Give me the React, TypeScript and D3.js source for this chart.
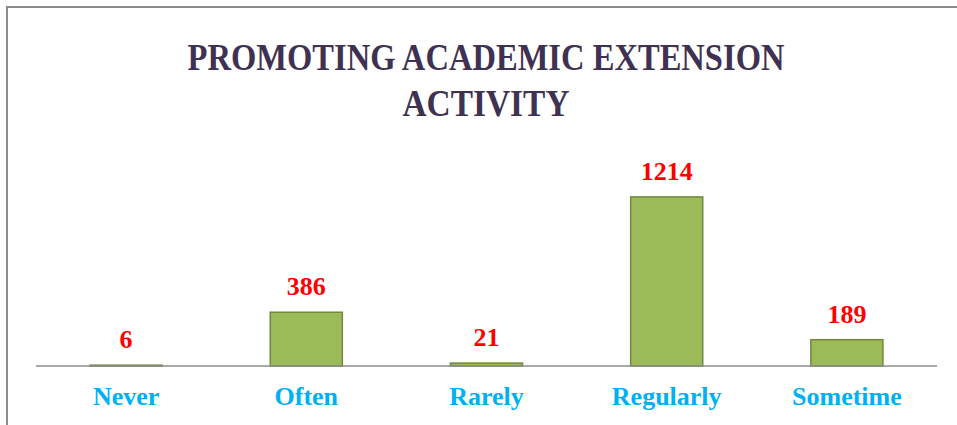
import React, { useEffect, useRef } from "react";
import * as d3 from "d3";

const categories = ["Never", "Often", "Rarely", "Regularly", "Sometime"];
const counts = [6, 386, 21, 1214, 189];
const titleLines = ["PROMOTING ACADEMIC EXTENSION", "ACTIVITY"];

const W = 957;
const H = 425;

const App = () => {
  const svgRef = useRef<SVGSVGElement>(null);

  useEffect(() => {
    const svg = d3.select(svgRef.current);
    svg.selectAll("*").remove();

    const left = 36;
    const right = 937;
    const baseY = 366;

    const x = d3.scaleBand().domain(categories).range([left, right]).paddingInner(0.6).paddingOuter(0.3);
    const y = d3.scaleLinear().domain([0, 1400]).range([baseY, 171]);

    // frame
    svg
      .append("path")
      .attr("d", `M7,${H} L7,7 L${W},7`)
      .attr("fill", "none")
      .attr("stroke", "#8c8c8c")
      .attr("stroke-width", 2);

    // title
    const titleW = [597, 167];
    titleLines.forEach((t, i) => {
      svg
        .append("text")
        .attr("x", 486)
        .attr("y", 70 + i * 46)
        .attr("text-anchor", "middle")
        .attr("textLength", titleW[i])
        .attr("lengthAdjust", "spacingAndGlyphs")
        .style("font-family", "'Liberation Serif', 'DejaVu Serif', serif")
        .style("font-weight", "bold")
        .style("font-size", "38px")
        .attr("fill", "#3f3151")
        .text(t);
    });

    const rows = categories.map((c, i) => ({ c, v: counts[i] }));

    svg
      .append("g")
      .selectAll("rect")
      .data(rows)
      .join("rect")
      .attr("x", (d) => x(d.c)!)
      .attr("width", x.bandwidth())
      .attr("y", (d) => y(d.v))
      .attr("height", (d) => Math.max(1, baseY - y(d.v)))
      .attr("fill", "#9bbb59")
      .attr("stroke", "#71893f")
      .attr("stroke-width", 1.5);

    // axis line
    svg
      .append("line")
      .attr("x1", left)
      .attr("x2", right)
      .attr("y1", baseY)
      .attr("y2", baseY)
      .attr("stroke", "#8c8c8c")
      .attr("stroke-width", 1.5);

    const font = "'Liberation Serif', 'Times New Roman', serif";

    svg
      .append("g")
      .selectAll("text")
      .data(rows)
      .join("text")
      .attr("x", (d) => x(d.c)! + x.bandwidth() / 2)
      .attr("y", (d) => y(d.v) - 17)
      .attr("text-anchor", "middle")
      .style("font-family", font)
      .style("font-weight", "bold")
      .style("font-size", "26px")
      .attr("fill", "#ff0000")
      .text((d) => d.v);

    svg
      .append("g")
      .selectAll("text")
      .data(rows)
      .join("text")
      .attr("x", (d) => x(d.c)! + x.bandwidth() / 2)
      .attr("y", 405)
      .attr("text-anchor", "middle")
      .style("font-family", font)
      .style("font-weight", "bold")
      .style("font-size", "26px")
      .attr("fill", "#00b0f0")
      .text((d) => d.c);
  }, []);

  return (
    <svg
      ref={svgRef}
      width={W}
      height={H}
      style={{ position: "absolute", left: 0, top: 0, background: "#fff" }}
    />
  );
};

export default App;
